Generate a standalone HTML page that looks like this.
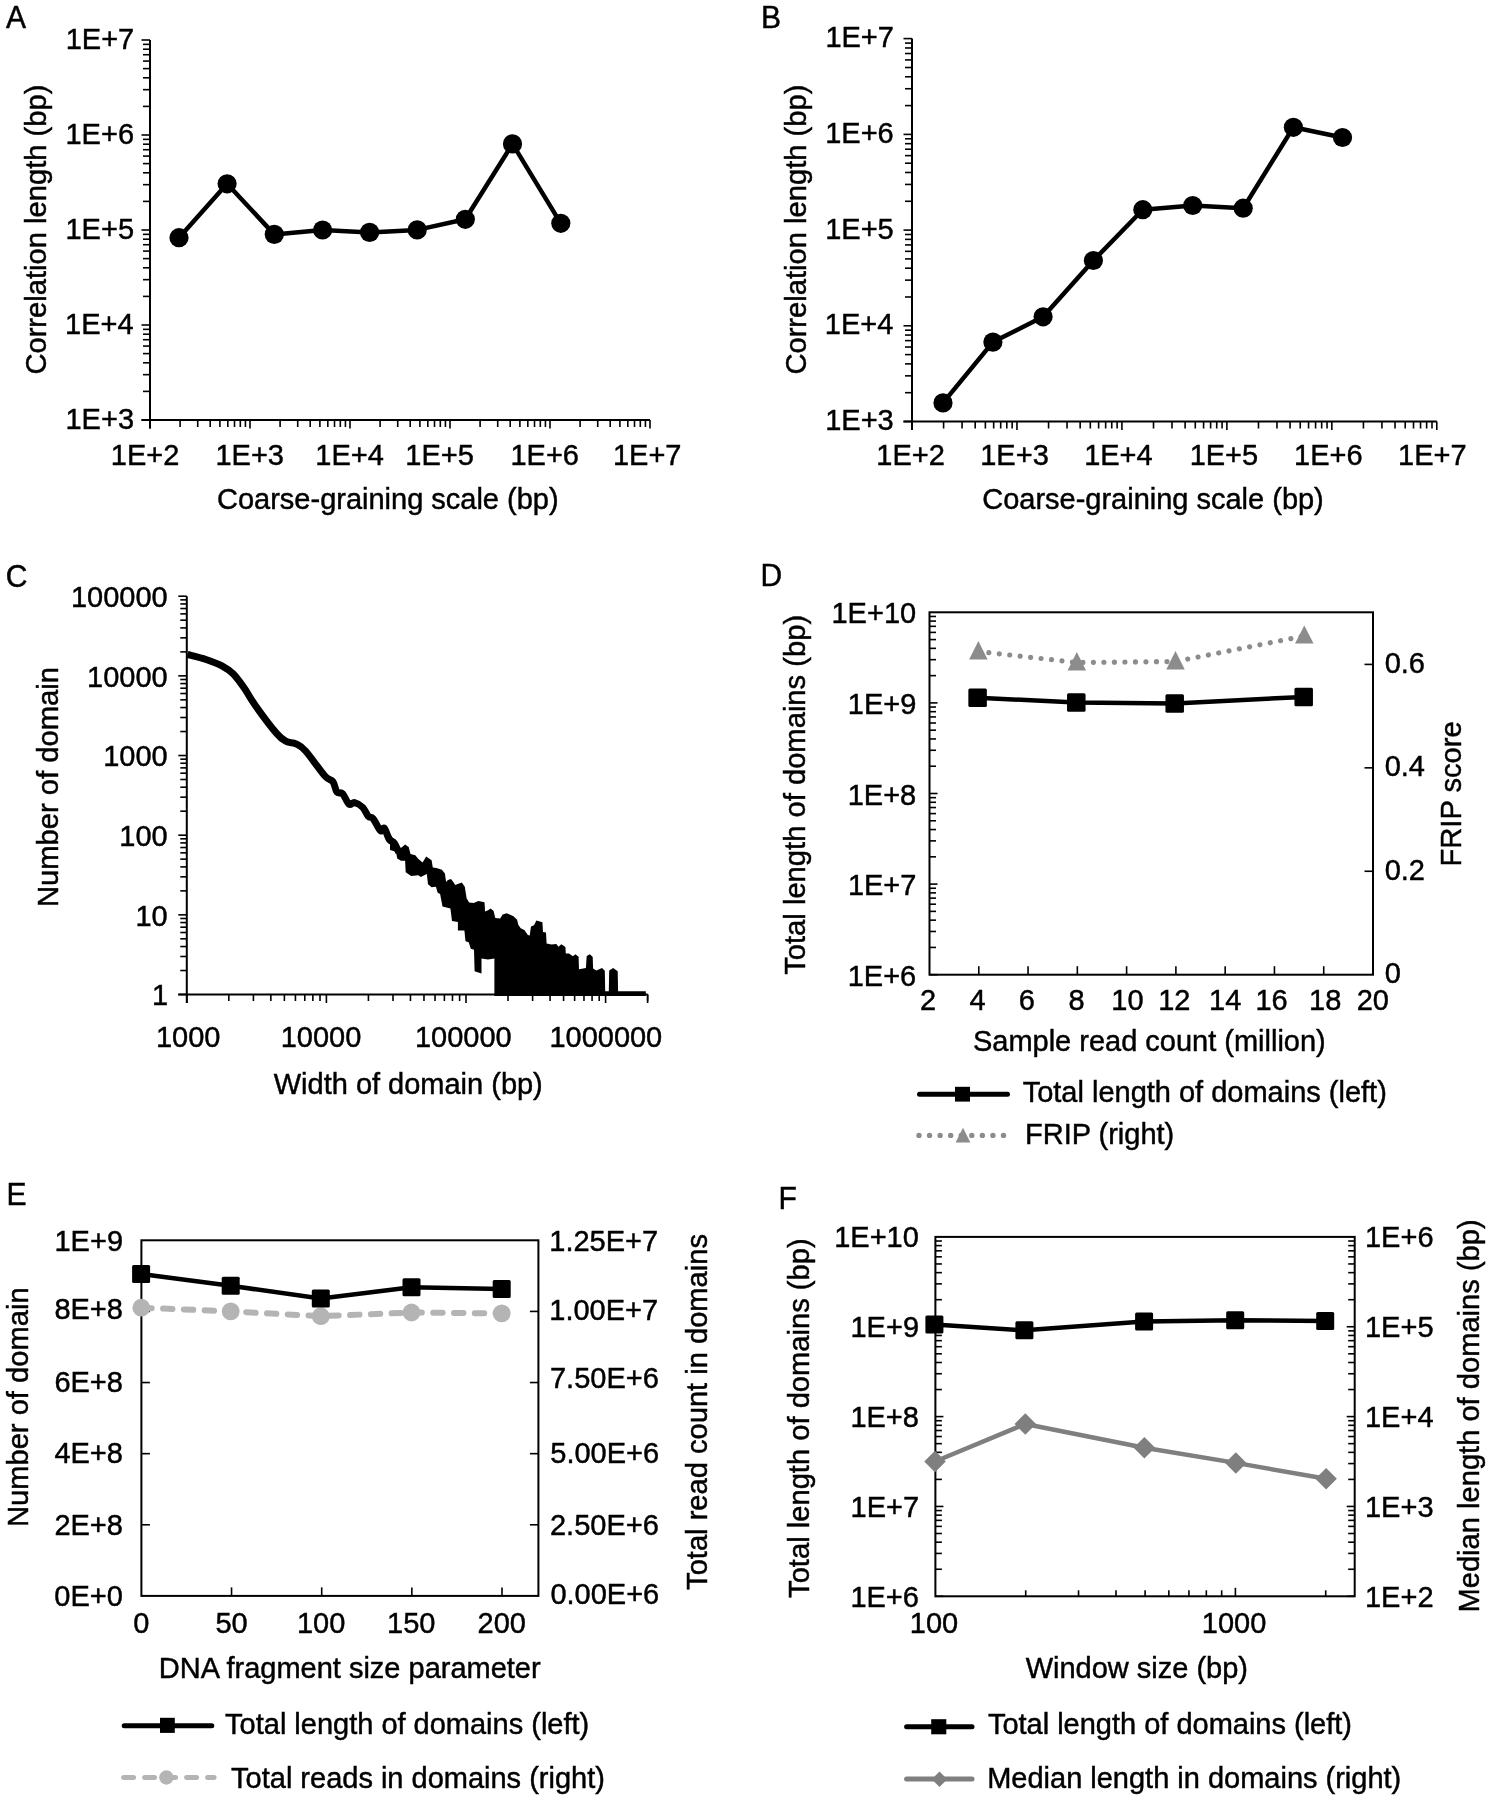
<!DOCTYPE html>
<html><head><meta charset="utf-8"><style>
html,body{margin:0;padding:0;background:#fff;}
svg{display:block;}
svg{will-change:transform;}
text{font-family:"Liberation Sans",sans-serif;fill:#000;stroke:#000;stroke-width:0.45px;}
</style></head><body>
<svg width="1491" height="1800" viewBox="0 0 1491 1800">
<rect width="1491" height="1800" fill="#fff"/>
<text transform="translate(5.90,27.80) scale(1,1.03)" font-size="30" fill="#000">A</text>
<line x1="150.00" y1="40.00" x2="150.00" y2="428.50" stroke="#000" stroke-width="2"/>
<line x1="141.50" y1="420.00" x2="650.00" y2="420.00" stroke="#000" stroke-width="2"/>
<line x1="141.50" y1="420.00" x2="150.00" y2="420.00" stroke="#000" stroke-width="1.6"/>
<line x1="143.00" y1="391.40" x2="150.00" y2="391.40" stroke="#000" stroke-width="1.6"/>
<line x1="143.00" y1="374.67" x2="150.00" y2="374.67" stroke="#000" stroke-width="1.6"/>
<line x1="143.00" y1="362.80" x2="150.00" y2="362.80" stroke="#000" stroke-width="1.6"/>
<line x1="143.00" y1="353.60" x2="150.00" y2="353.60" stroke="#000" stroke-width="1.6"/>
<line x1="143.00" y1="346.08" x2="150.00" y2="346.08" stroke="#000" stroke-width="1.6"/>
<line x1="143.00" y1="339.72" x2="150.00" y2="339.72" stroke="#000" stroke-width="1.6"/>
<line x1="143.00" y1="334.21" x2="150.00" y2="334.21" stroke="#000" stroke-width="1.6"/>
<line x1="143.00" y1="329.35" x2="150.00" y2="329.35" stroke="#000" stroke-width="1.6"/>
<line x1="141.50" y1="325.00" x2="150.00" y2="325.00" stroke="#000" stroke-width="1.6"/>
<line x1="143.00" y1="296.40" x2="150.00" y2="296.40" stroke="#000" stroke-width="1.6"/>
<line x1="143.00" y1="279.67" x2="150.00" y2="279.67" stroke="#000" stroke-width="1.6"/>
<line x1="143.00" y1="267.80" x2="150.00" y2="267.80" stroke="#000" stroke-width="1.6"/>
<line x1="143.00" y1="258.60" x2="150.00" y2="258.60" stroke="#000" stroke-width="1.6"/>
<line x1="143.00" y1="251.08" x2="150.00" y2="251.08" stroke="#000" stroke-width="1.6"/>
<line x1="143.00" y1="244.72" x2="150.00" y2="244.72" stroke="#000" stroke-width="1.6"/>
<line x1="143.00" y1="239.21" x2="150.00" y2="239.21" stroke="#000" stroke-width="1.6"/>
<line x1="143.00" y1="234.35" x2="150.00" y2="234.35" stroke="#000" stroke-width="1.6"/>
<line x1="141.50" y1="230.00" x2="150.00" y2="230.00" stroke="#000" stroke-width="1.6"/>
<line x1="143.00" y1="201.40" x2="150.00" y2="201.40" stroke="#000" stroke-width="1.6"/>
<line x1="143.00" y1="184.67" x2="150.00" y2="184.67" stroke="#000" stroke-width="1.6"/>
<line x1="143.00" y1="172.80" x2="150.00" y2="172.80" stroke="#000" stroke-width="1.6"/>
<line x1="143.00" y1="163.60" x2="150.00" y2="163.60" stroke="#000" stroke-width="1.6"/>
<line x1="143.00" y1="156.08" x2="150.00" y2="156.08" stroke="#000" stroke-width="1.6"/>
<line x1="143.00" y1="149.72" x2="150.00" y2="149.72" stroke="#000" stroke-width="1.6"/>
<line x1="143.00" y1="144.21" x2="150.00" y2="144.21" stroke="#000" stroke-width="1.6"/>
<line x1="143.00" y1="139.35" x2="150.00" y2="139.35" stroke="#000" stroke-width="1.6"/>
<line x1="141.50" y1="135.00" x2="150.00" y2="135.00" stroke="#000" stroke-width="1.6"/>
<line x1="143.00" y1="106.40" x2="150.00" y2="106.40" stroke="#000" stroke-width="1.6"/>
<line x1="143.00" y1="89.67" x2="150.00" y2="89.67" stroke="#000" stroke-width="1.6"/>
<line x1="143.00" y1="77.80" x2="150.00" y2="77.80" stroke="#000" stroke-width="1.6"/>
<line x1="143.00" y1="68.60" x2="150.00" y2="68.60" stroke="#000" stroke-width="1.6"/>
<line x1="143.00" y1="61.08" x2="150.00" y2="61.08" stroke="#000" stroke-width="1.6"/>
<line x1="143.00" y1="54.72" x2="150.00" y2="54.72" stroke="#000" stroke-width="1.6"/>
<line x1="143.00" y1="49.21" x2="150.00" y2="49.21" stroke="#000" stroke-width="1.6"/>
<line x1="143.00" y1="44.35" x2="150.00" y2="44.35" stroke="#000" stroke-width="1.6"/>
<line x1="141.50" y1="40.00" x2="150.00" y2="40.00" stroke="#000" stroke-width="1.6"/>
<line x1="150.00" y1="420.00" x2="150.00" y2="428.50" stroke="#000" stroke-width="1.6"/>
<line x1="180.10" y1="420.00" x2="180.10" y2="427.00" stroke="#000" stroke-width="1.6"/>
<line x1="197.71" y1="420.00" x2="197.71" y2="427.00" stroke="#000" stroke-width="1.6"/>
<line x1="210.21" y1="420.00" x2="210.21" y2="427.00" stroke="#000" stroke-width="1.6"/>
<line x1="219.90" y1="420.00" x2="219.90" y2="427.00" stroke="#000" stroke-width="1.6"/>
<line x1="227.82" y1="420.00" x2="227.82" y2="427.00" stroke="#000" stroke-width="1.6"/>
<line x1="234.51" y1="420.00" x2="234.51" y2="427.00" stroke="#000" stroke-width="1.6"/>
<line x1="240.31" y1="420.00" x2="240.31" y2="427.00" stroke="#000" stroke-width="1.6"/>
<line x1="245.42" y1="420.00" x2="245.42" y2="427.00" stroke="#000" stroke-width="1.6"/>
<line x1="250.00" y1="420.00" x2="250.00" y2="428.50" stroke="#000" stroke-width="1.6"/>
<line x1="280.10" y1="420.00" x2="280.10" y2="427.00" stroke="#000" stroke-width="1.6"/>
<line x1="297.71" y1="420.00" x2="297.71" y2="427.00" stroke="#000" stroke-width="1.6"/>
<line x1="310.21" y1="420.00" x2="310.21" y2="427.00" stroke="#000" stroke-width="1.6"/>
<line x1="319.90" y1="420.00" x2="319.90" y2="427.00" stroke="#000" stroke-width="1.6"/>
<line x1="327.82" y1="420.00" x2="327.82" y2="427.00" stroke="#000" stroke-width="1.6"/>
<line x1="334.51" y1="420.00" x2="334.51" y2="427.00" stroke="#000" stroke-width="1.6"/>
<line x1="340.31" y1="420.00" x2="340.31" y2="427.00" stroke="#000" stroke-width="1.6"/>
<line x1="345.42" y1="420.00" x2="345.42" y2="427.00" stroke="#000" stroke-width="1.6"/>
<line x1="350.00" y1="420.00" x2="350.00" y2="428.50" stroke="#000" stroke-width="1.6"/>
<line x1="380.10" y1="420.00" x2="380.10" y2="427.00" stroke="#000" stroke-width="1.6"/>
<line x1="397.71" y1="420.00" x2="397.71" y2="427.00" stroke="#000" stroke-width="1.6"/>
<line x1="410.21" y1="420.00" x2="410.21" y2="427.00" stroke="#000" stroke-width="1.6"/>
<line x1="419.90" y1="420.00" x2="419.90" y2="427.00" stroke="#000" stroke-width="1.6"/>
<line x1="427.82" y1="420.00" x2="427.82" y2="427.00" stroke="#000" stroke-width="1.6"/>
<line x1="434.51" y1="420.00" x2="434.51" y2="427.00" stroke="#000" stroke-width="1.6"/>
<line x1="440.31" y1="420.00" x2="440.31" y2="427.00" stroke="#000" stroke-width="1.6"/>
<line x1="445.42" y1="420.00" x2="445.42" y2="427.00" stroke="#000" stroke-width="1.6"/>
<line x1="450.00" y1="420.00" x2="450.00" y2="428.50" stroke="#000" stroke-width="1.6"/>
<line x1="480.10" y1="420.00" x2="480.10" y2="427.00" stroke="#000" stroke-width="1.6"/>
<line x1="497.71" y1="420.00" x2="497.71" y2="427.00" stroke="#000" stroke-width="1.6"/>
<line x1="510.21" y1="420.00" x2="510.21" y2="427.00" stroke="#000" stroke-width="1.6"/>
<line x1="519.90" y1="420.00" x2="519.90" y2="427.00" stroke="#000" stroke-width="1.6"/>
<line x1="527.82" y1="420.00" x2="527.82" y2="427.00" stroke="#000" stroke-width="1.6"/>
<line x1="534.51" y1="420.00" x2="534.51" y2="427.00" stroke="#000" stroke-width="1.6"/>
<line x1="540.31" y1="420.00" x2="540.31" y2="427.00" stroke="#000" stroke-width="1.6"/>
<line x1="545.42" y1="420.00" x2="545.42" y2="427.00" stroke="#000" stroke-width="1.6"/>
<line x1="550.00" y1="420.00" x2="550.00" y2="428.50" stroke="#000" stroke-width="1.6"/>
<line x1="580.10" y1="420.00" x2="580.10" y2="427.00" stroke="#000" stroke-width="1.6"/>
<line x1="597.71" y1="420.00" x2="597.71" y2="427.00" stroke="#000" stroke-width="1.6"/>
<line x1="610.21" y1="420.00" x2="610.21" y2="427.00" stroke="#000" stroke-width="1.6"/>
<line x1="619.90" y1="420.00" x2="619.90" y2="427.00" stroke="#000" stroke-width="1.6"/>
<line x1="627.82" y1="420.00" x2="627.82" y2="427.00" stroke="#000" stroke-width="1.6"/>
<line x1="634.51" y1="420.00" x2="634.51" y2="427.00" stroke="#000" stroke-width="1.6"/>
<line x1="640.31" y1="420.00" x2="640.31" y2="427.00" stroke="#000" stroke-width="1.6"/>
<line x1="645.42" y1="420.00" x2="645.42" y2="427.00" stroke="#000" stroke-width="1.6"/>
<line x1="650.00" y1="420.00" x2="650.00" y2="428.50" stroke="#000" stroke-width="1.6"/>
<text transform="translate(65.50,428.60) scale(1,1.03)" font-size="29" fill="#000">1E+3</text>
<text transform="translate(65.10,333.60) scale(1,1.03)" font-size="29" fill="#000">1E+4</text>
<text transform="translate(65.50,238.60) scale(1,1.03)" font-size="29" fill="#000">1E+5</text>
<text transform="translate(65.50,143.60) scale(1,1.03)" font-size="29" fill="#000">1E+6</text>
<text transform="translate(65.70,48.60) scale(1,1.03)" font-size="29" fill="#000">1E+7</text>
<text transform="translate(110.85,465.30) scale(1,1.03)" font-size="29" fill="#000">1E+2</text>
<text transform="translate(215.45,465.30) scale(1,1.03)" font-size="29" fill="#000">1E+3</text>
<text transform="translate(315.35,465.30) scale(1,1.03)" font-size="29" fill="#000">1E+4</text>
<text transform="translate(405.35,465.30) scale(1,1.03)" font-size="29" fill="#000">1E+5</text>
<text transform="translate(510.45,465.30) scale(1,1.03)" font-size="29" fill="#000">1E+6</text>
<text transform="translate(612.95,465.30) scale(1,1.03)" font-size="29" fill="#000">1E+7</text>
<polyline points="179.00,237.70 227.10,183.80 274.30,234.40 322.60,230.00 369.60,232.40 417.20,229.90 465.30,219.30 512.50,143.90 560.80,223.30" fill="none" stroke="#000" stroke-width="4.5" stroke-linejoin="round"/>
<circle cx="179.00" cy="237.70" r="9.6" fill="#000"/>
<circle cx="227.10" cy="183.80" r="9.6" fill="#000"/>
<circle cx="274.30" cy="234.40" r="9.6" fill="#000"/>
<circle cx="322.60" cy="230.00" r="9.6" fill="#000"/>
<circle cx="369.60" cy="232.40" r="9.6" fill="#000"/>
<circle cx="417.20" cy="229.90" r="9.6" fill="#000"/>
<circle cx="465.30" cy="219.30" r="9.6" fill="#000"/>
<circle cx="512.50" cy="143.90" r="9.6" fill="#000"/>
<circle cx="560.80" cy="223.30" r="9.6" fill="#000"/>
<text transform="translate(45.50,374.61) rotate(-90) scale(1.0056,1.03)" x="0" y="0" font-size="29">Correlation length (bp)</text>
<text transform="translate(760.90,27.80) scale(1,1.03)" font-size="30" fill="#000">B</text>
<line x1="912.00" y1="38.60" x2="912.00" y2="430.00" stroke="#000" stroke-width="2"/>
<line x1="903.50" y1="421.50" x2="1436.80" y2="421.50" stroke="#000" stroke-width="2"/>
<line x1="903.50" y1="421.50" x2="912.00" y2="421.50" stroke="#000" stroke-width="1.6"/>
<line x1="905.00" y1="392.69" x2="912.00" y2="392.69" stroke="#000" stroke-width="1.6"/>
<line x1="905.00" y1="375.84" x2="912.00" y2="375.84" stroke="#000" stroke-width="1.6"/>
<line x1="905.00" y1="363.88" x2="912.00" y2="363.88" stroke="#000" stroke-width="1.6"/>
<line x1="905.00" y1="354.61" x2="912.00" y2="354.61" stroke="#000" stroke-width="1.6"/>
<line x1="905.00" y1="347.03" x2="912.00" y2="347.03" stroke="#000" stroke-width="1.6"/>
<line x1="905.00" y1="340.62" x2="912.00" y2="340.62" stroke="#000" stroke-width="1.6"/>
<line x1="905.00" y1="335.07" x2="912.00" y2="335.07" stroke="#000" stroke-width="1.6"/>
<line x1="905.00" y1="330.18" x2="912.00" y2="330.18" stroke="#000" stroke-width="1.6"/>
<line x1="903.50" y1="325.80" x2="912.00" y2="325.80" stroke="#000" stroke-width="1.6"/>
<line x1="905.00" y1="296.99" x2="912.00" y2="296.99" stroke="#000" stroke-width="1.6"/>
<line x1="905.00" y1="280.14" x2="912.00" y2="280.14" stroke="#000" stroke-width="1.6"/>
<line x1="905.00" y1="268.18" x2="912.00" y2="268.18" stroke="#000" stroke-width="1.6"/>
<line x1="905.00" y1="258.91" x2="912.00" y2="258.91" stroke="#000" stroke-width="1.6"/>
<line x1="905.00" y1="251.33" x2="912.00" y2="251.33" stroke="#000" stroke-width="1.6"/>
<line x1="905.00" y1="244.92" x2="912.00" y2="244.92" stroke="#000" stroke-width="1.6"/>
<line x1="905.00" y1="239.37" x2="912.00" y2="239.37" stroke="#000" stroke-width="1.6"/>
<line x1="905.00" y1="234.48" x2="912.00" y2="234.48" stroke="#000" stroke-width="1.6"/>
<line x1="903.50" y1="230.10" x2="912.00" y2="230.10" stroke="#000" stroke-width="1.6"/>
<line x1="905.00" y1="201.29" x2="912.00" y2="201.29" stroke="#000" stroke-width="1.6"/>
<line x1="905.00" y1="184.44" x2="912.00" y2="184.44" stroke="#000" stroke-width="1.6"/>
<line x1="905.00" y1="172.48" x2="912.00" y2="172.48" stroke="#000" stroke-width="1.6"/>
<line x1="905.00" y1="163.21" x2="912.00" y2="163.21" stroke="#000" stroke-width="1.6"/>
<line x1="905.00" y1="155.63" x2="912.00" y2="155.63" stroke="#000" stroke-width="1.6"/>
<line x1="905.00" y1="149.22" x2="912.00" y2="149.22" stroke="#000" stroke-width="1.6"/>
<line x1="905.00" y1="143.67" x2="912.00" y2="143.67" stroke="#000" stroke-width="1.6"/>
<line x1="905.00" y1="138.78" x2="912.00" y2="138.78" stroke="#000" stroke-width="1.6"/>
<line x1="903.50" y1="134.40" x2="912.00" y2="134.40" stroke="#000" stroke-width="1.6"/>
<line x1="905.00" y1="105.59" x2="912.00" y2="105.59" stroke="#000" stroke-width="1.6"/>
<line x1="905.00" y1="88.74" x2="912.00" y2="88.74" stroke="#000" stroke-width="1.6"/>
<line x1="905.00" y1="76.78" x2="912.00" y2="76.78" stroke="#000" stroke-width="1.6"/>
<line x1="905.00" y1="67.51" x2="912.00" y2="67.51" stroke="#000" stroke-width="1.6"/>
<line x1="905.00" y1="59.93" x2="912.00" y2="59.93" stroke="#000" stroke-width="1.6"/>
<line x1="905.00" y1="53.52" x2="912.00" y2="53.52" stroke="#000" stroke-width="1.6"/>
<line x1="905.00" y1="47.97" x2="912.00" y2="47.97" stroke="#000" stroke-width="1.6"/>
<line x1="905.00" y1="43.08" x2="912.00" y2="43.08" stroke="#000" stroke-width="1.6"/>
<line x1="903.50" y1="38.60" x2="912.00" y2="38.60" stroke="#000" stroke-width="1.6"/>
<line x1="912.00" y1="421.50" x2="912.00" y2="430.00" stroke="#000" stroke-width="1.6"/>
<line x1="943.60" y1="421.50" x2="943.60" y2="428.50" stroke="#000" stroke-width="1.6"/>
<line x1="962.08" y1="421.50" x2="962.08" y2="428.50" stroke="#000" stroke-width="1.6"/>
<line x1="975.19" y1="421.50" x2="975.19" y2="428.50" stroke="#000" stroke-width="1.6"/>
<line x1="985.36" y1="421.50" x2="985.36" y2="428.50" stroke="#000" stroke-width="1.6"/>
<line x1="993.67" y1="421.50" x2="993.67" y2="428.50" stroke="#000" stroke-width="1.6"/>
<line x1="1000.70" y1="421.50" x2="1000.70" y2="428.50" stroke="#000" stroke-width="1.6"/>
<line x1="1006.79" y1="421.50" x2="1006.79" y2="428.50" stroke="#000" stroke-width="1.6"/>
<line x1="1012.16" y1="421.50" x2="1012.16" y2="428.50" stroke="#000" stroke-width="1.6"/>
<line x1="1016.96" y1="421.50" x2="1016.96" y2="430.00" stroke="#000" stroke-width="1.6"/>
<line x1="1048.56" y1="421.50" x2="1048.56" y2="428.50" stroke="#000" stroke-width="1.6"/>
<line x1="1067.04" y1="421.50" x2="1067.04" y2="428.50" stroke="#000" stroke-width="1.6"/>
<line x1="1080.15" y1="421.50" x2="1080.15" y2="428.50" stroke="#000" stroke-width="1.6"/>
<line x1="1090.32" y1="421.50" x2="1090.32" y2="428.50" stroke="#000" stroke-width="1.6"/>
<line x1="1098.63" y1="421.50" x2="1098.63" y2="428.50" stroke="#000" stroke-width="1.6"/>
<line x1="1105.66" y1="421.50" x2="1105.66" y2="428.50" stroke="#000" stroke-width="1.6"/>
<line x1="1111.75" y1="421.50" x2="1111.75" y2="428.50" stroke="#000" stroke-width="1.6"/>
<line x1="1117.12" y1="421.50" x2="1117.12" y2="428.50" stroke="#000" stroke-width="1.6"/>
<line x1="1121.92" y1="421.50" x2="1121.92" y2="430.00" stroke="#000" stroke-width="1.6"/>
<line x1="1153.52" y1="421.50" x2="1153.52" y2="428.50" stroke="#000" stroke-width="1.6"/>
<line x1="1172.00" y1="421.50" x2="1172.00" y2="428.50" stroke="#000" stroke-width="1.6"/>
<line x1="1185.11" y1="421.50" x2="1185.11" y2="428.50" stroke="#000" stroke-width="1.6"/>
<line x1="1195.28" y1="421.50" x2="1195.28" y2="428.50" stroke="#000" stroke-width="1.6"/>
<line x1="1203.59" y1="421.50" x2="1203.59" y2="428.50" stroke="#000" stroke-width="1.6"/>
<line x1="1210.62" y1="421.50" x2="1210.62" y2="428.50" stroke="#000" stroke-width="1.6"/>
<line x1="1216.71" y1="421.50" x2="1216.71" y2="428.50" stroke="#000" stroke-width="1.6"/>
<line x1="1222.08" y1="421.50" x2="1222.08" y2="428.50" stroke="#000" stroke-width="1.6"/>
<line x1="1226.88" y1="421.50" x2="1226.88" y2="430.00" stroke="#000" stroke-width="1.6"/>
<line x1="1258.48" y1="421.50" x2="1258.48" y2="428.50" stroke="#000" stroke-width="1.6"/>
<line x1="1276.96" y1="421.50" x2="1276.96" y2="428.50" stroke="#000" stroke-width="1.6"/>
<line x1="1290.07" y1="421.50" x2="1290.07" y2="428.50" stroke="#000" stroke-width="1.6"/>
<line x1="1300.24" y1="421.50" x2="1300.24" y2="428.50" stroke="#000" stroke-width="1.6"/>
<line x1="1308.55" y1="421.50" x2="1308.55" y2="428.50" stroke="#000" stroke-width="1.6"/>
<line x1="1315.58" y1="421.50" x2="1315.58" y2="428.50" stroke="#000" stroke-width="1.6"/>
<line x1="1321.67" y1="421.50" x2="1321.67" y2="428.50" stroke="#000" stroke-width="1.6"/>
<line x1="1327.04" y1="421.50" x2="1327.04" y2="428.50" stroke="#000" stroke-width="1.6"/>
<line x1="1331.84" y1="421.50" x2="1331.84" y2="430.00" stroke="#000" stroke-width="1.6"/>
<line x1="1363.44" y1="421.50" x2="1363.44" y2="428.50" stroke="#000" stroke-width="1.6"/>
<line x1="1381.92" y1="421.50" x2="1381.92" y2="428.50" stroke="#000" stroke-width="1.6"/>
<line x1="1395.03" y1="421.50" x2="1395.03" y2="428.50" stroke="#000" stroke-width="1.6"/>
<line x1="1405.20" y1="421.50" x2="1405.20" y2="428.50" stroke="#000" stroke-width="1.6"/>
<line x1="1413.51" y1="421.50" x2="1413.51" y2="428.50" stroke="#000" stroke-width="1.6"/>
<line x1="1420.54" y1="421.50" x2="1420.54" y2="428.50" stroke="#000" stroke-width="1.6"/>
<line x1="1426.63" y1="421.50" x2="1426.63" y2="428.50" stroke="#000" stroke-width="1.6"/>
<line x1="1432.00" y1="421.50" x2="1432.00" y2="428.50" stroke="#000" stroke-width="1.6"/>
<line x1="1436.80" y1="421.50" x2="1436.80" y2="430.00" stroke="#000" stroke-width="1.6"/>
<text transform="translate(825.20,430.10) scale(1,1.03)" font-size="29" fill="#000">1E+3</text>
<text transform="translate(824.80,334.40) scale(1,1.03)" font-size="29" fill="#000">1E+4</text>
<text transform="translate(825.20,238.70) scale(1,1.03)" font-size="29" fill="#000">1E+5</text>
<text transform="translate(825.20,143.00) scale(1,1.03)" font-size="29" fill="#000">1E+6</text>
<text transform="translate(825.40,47.30) scale(1,1.03)" font-size="29" fill="#000">1E+7</text>
<text transform="translate(876.35,465.30) scale(1,1.03)" font-size="29" fill="#000">1E+2</text>
<text transform="translate(980.25,465.30) scale(1,1.03)" font-size="29" fill="#000">1E+3</text>
<text transform="translate(1084.15,465.30) scale(1,1.03)" font-size="29" fill="#000">1E+4</text>
<text transform="translate(1189.65,465.30) scale(1,1.03)" font-size="29" fill="#000">1E+5</text>
<text transform="translate(1294.05,465.30) scale(1,1.03)" font-size="29" fill="#000">1E+6</text>
<text transform="translate(1398.05,465.30) scale(1,1.03)" font-size="29" fill="#000">1E+7</text>
<polyline points="943.00,402.90 992.90,342.10 1043.10,316.80 1093.40,260.50 1142.80,209.70 1192.70,205.50 1243.20,208.20 1293.40,127.30 1342.50,137.50" fill="none" stroke="#000" stroke-width="4.5" stroke-linejoin="round"/>
<circle cx="943.00" cy="402.90" r="9.6" fill="#000"/>
<circle cx="992.90" cy="342.10" r="9.6" fill="#000"/>
<circle cx="1043.10" cy="316.80" r="9.6" fill="#000"/>
<circle cx="1093.40" cy="260.50" r="9.6" fill="#000"/>
<circle cx="1142.80" cy="209.70" r="9.6" fill="#000"/>
<circle cx="1192.70" cy="205.50" r="9.6" fill="#000"/>
<circle cx="1243.20" cy="208.20" r="9.6" fill="#000"/>
<circle cx="1293.40" cy="127.30" r="9.6" fill="#000"/>
<circle cx="1342.50" cy="137.50" r="9.6" fill="#000"/>
<text transform="translate(805.90,374.61) rotate(-90) scale(1.0056,1.03)" x="0" y="0" font-size="29">Correlation length (bp)</text>
<text transform="translate(217.05,508.70) scale(1,1.03)" font-size="29" fill="#000">Coarse-graining scale (bp)</text>
<text transform="translate(982.25,508.70) scale(1,1.03)" font-size="29" fill="#000">Coarse-graining scale (bp)</text>
<text transform="translate(5.70,586.60) scale(1,1.03)" font-size="30" fill="#000">C</text>
<line x1="186.80" y1="596.20" x2="186.80" y2="1003.00" stroke="#000" stroke-width="2"/>
<line x1="178.30" y1="994.50" x2="647.62" y2="994.50" stroke="#000" stroke-width="2"/>
<line x1="178.30" y1="994.50" x2="186.80" y2="994.50" stroke="#000" stroke-width="1.6"/>
<line x1="180.30" y1="970.52" x2="186.80" y2="970.52" stroke="#000" stroke-width="1.6"/>
<line x1="180.30" y1="956.49" x2="186.80" y2="956.49" stroke="#000" stroke-width="1.6"/>
<line x1="180.30" y1="946.54" x2="186.80" y2="946.54" stroke="#000" stroke-width="1.6"/>
<line x1="180.30" y1="938.82" x2="186.80" y2="938.82" stroke="#000" stroke-width="1.6"/>
<line x1="180.30" y1="932.51" x2="186.80" y2="932.51" stroke="#000" stroke-width="1.6"/>
<line x1="180.30" y1="927.18" x2="186.80" y2="927.18" stroke="#000" stroke-width="1.6"/>
<line x1="180.30" y1="922.56" x2="186.80" y2="922.56" stroke="#000" stroke-width="1.6"/>
<line x1="180.30" y1="918.49" x2="186.80" y2="918.49" stroke="#000" stroke-width="1.6"/>
<line x1="178.30" y1="914.84" x2="186.80" y2="914.84" stroke="#000" stroke-width="1.6"/>
<line x1="180.30" y1="890.86" x2="186.80" y2="890.86" stroke="#000" stroke-width="1.6"/>
<line x1="180.30" y1="876.83" x2="186.80" y2="876.83" stroke="#000" stroke-width="1.6"/>
<line x1="180.30" y1="866.88" x2="186.80" y2="866.88" stroke="#000" stroke-width="1.6"/>
<line x1="180.30" y1="859.16" x2="186.80" y2="859.16" stroke="#000" stroke-width="1.6"/>
<line x1="180.30" y1="852.85" x2="186.80" y2="852.85" stroke="#000" stroke-width="1.6"/>
<line x1="180.30" y1="847.52" x2="186.80" y2="847.52" stroke="#000" stroke-width="1.6"/>
<line x1="180.30" y1="842.90" x2="186.80" y2="842.90" stroke="#000" stroke-width="1.6"/>
<line x1="180.30" y1="838.83" x2="186.80" y2="838.83" stroke="#000" stroke-width="1.6"/>
<line x1="178.30" y1="835.18" x2="186.80" y2="835.18" stroke="#000" stroke-width="1.6"/>
<line x1="180.30" y1="811.20" x2="186.80" y2="811.20" stroke="#000" stroke-width="1.6"/>
<line x1="180.30" y1="797.17" x2="186.80" y2="797.17" stroke="#000" stroke-width="1.6"/>
<line x1="180.30" y1="787.22" x2="186.80" y2="787.22" stroke="#000" stroke-width="1.6"/>
<line x1="180.30" y1="779.50" x2="186.80" y2="779.50" stroke="#000" stroke-width="1.6"/>
<line x1="180.30" y1="773.19" x2="186.80" y2="773.19" stroke="#000" stroke-width="1.6"/>
<line x1="180.30" y1="767.86" x2="186.80" y2="767.86" stroke="#000" stroke-width="1.6"/>
<line x1="180.30" y1="763.24" x2="186.80" y2="763.24" stroke="#000" stroke-width="1.6"/>
<line x1="180.30" y1="759.17" x2="186.80" y2="759.17" stroke="#000" stroke-width="1.6"/>
<line x1="178.30" y1="755.52" x2="186.80" y2="755.52" stroke="#000" stroke-width="1.6"/>
<line x1="180.30" y1="731.54" x2="186.80" y2="731.54" stroke="#000" stroke-width="1.6"/>
<line x1="180.30" y1="717.51" x2="186.80" y2="717.51" stroke="#000" stroke-width="1.6"/>
<line x1="180.30" y1="707.56" x2="186.80" y2="707.56" stroke="#000" stroke-width="1.6"/>
<line x1="180.30" y1="699.84" x2="186.80" y2="699.84" stroke="#000" stroke-width="1.6"/>
<line x1="180.30" y1="693.53" x2="186.80" y2="693.53" stroke="#000" stroke-width="1.6"/>
<line x1="180.30" y1="688.20" x2="186.80" y2="688.20" stroke="#000" stroke-width="1.6"/>
<line x1="180.30" y1="683.58" x2="186.80" y2="683.58" stroke="#000" stroke-width="1.6"/>
<line x1="180.30" y1="679.51" x2="186.80" y2="679.51" stroke="#000" stroke-width="1.6"/>
<line x1="178.30" y1="675.86" x2="186.80" y2="675.86" stroke="#000" stroke-width="1.6"/>
<line x1="180.30" y1="651.88" x2="186.80" y2="651.88" stroke="#000" stroke-width="1.6"/>
<line x1="180.30" y1="637.85" x2="186.80" y2="637.85" stroke="#000" stroke-width="1.6"/>
<line x1="180.30" y1="627.90" x2="186.80" y2="627.90" stroke="#000" stroke-width="1.6"/>
<line x1="180.30" y1="620.18" x2="186.80" y2="620.18" stroke="#000" stroke-width="1.6"/>
<line x1="180.30" y1="613.87" x2="186.80" y2="613.87" stroke="#000" stroke-width="1.6"/>
<line x1="180.30" y1="608.54" x2="186.80" y2="608.54" stroke="#000" stroke-width="1.6"/>
<line x1="180.30" y1="603.92" x2="186.80" y2="603.92" stroke="#000" stroke-width="1.6"/>
<line x1="180.30" y1="599.85" x2="186.80" y2="599.85" stroke="#000" stroke-width="1.6"/>
<line x1="178.30" y1="596.20" x2="186.80" y2="596.20" stroke="#000" stroke-width="1.6"/>
<line x1="186.80" y1="994.50" x2="186.80" y2="1003.00" stroke="#000" stroke-width="1.6"/>
<line x1="228.82" y1="994.50" x2="228.82" y2="1001.00" stroke="#000" stroke-width="1.6"/>
<line x1="253.41" y1="994.50" x2="253.41" y2="1001.00" stroke="#000" stroke-width="1.6"/>
<line x1="270.85" y1="994.50" x2="270.85" y2="1001.00" stroke="#000" stroke-width="1.6"/>
<line x1="284.38" y1="994.50" x2="284.38" y2="1001.00" stroke="#000" stroke-width="1.6"/>
<line x1="295.43" y1="994.50" x2="295.43" y2="1001.00" stroke="#000" stroke-width="1.6"/>
<line x1="304.78" y1="994.50" x2="304.78" y2="1001.00" stroke="#000" stroke-width="1.6"/>
<line x1="312.87" y1="994.50" x2="312.87" y2="1001.00" stroke="#000" stroke-width="1.6"/>
<line x1="320.01" y1="994.50" x2="320.01" y2="1001.00" stroke="#000" stroke-width="1.6"/>
<line x1="326.40" y1="994.50" x2="326.40" y2="1003.00" stroke="#000" stroke-width="1.6"/>
<line x1="368.42" y1="994.50" x2="368.42" y2="1001.00" stroke="#000" stroke-width="1.6"/>
<line x1="393.01" y1="994.50" x2="393.01" y2="1001.00" stroke="#000" stroke-width="1.6"/>
<line x1="410.45" y1="994.50" x2="410.45" y2="1001.00" stroke="#000" stroke-width="1.6"/>
<line x1="423.98" y1="994.50" x2="423.98" y2="1001.00" stroke="#000" stroke-width="1.6"/>
<line x1="435.03" y1="994.50" x2="435.03" y2="1001.00" stroke="#000" stroke-width="1.6"/>
<line x1="444.38" y1="994.50" x2="444.38" y2="1001.00" stroke="#000" stroke-width="1.6"/>
<line x1="452.47" y1="994.50" x2="452.47" y2="1001.00" stroke="#000" stroke-width="1.6"/>
<line x1="459.61" y1="994.50" x2="459.61" y2="1001.00" stroke="#000" stroke-width="1.6"/>
<line x1="466.00" y1="994.50" x2="466.00" y2="1003.00" stroke="#000" stroke-width="1.6"/>
<line x1="508.02" y1="994.50" x2="508.02" y2="1001.00" stroke="#000" stroke-width="1.6"/>
<line x1="532.61" y1="994.50" x2="532.61" y2="1001.00" stroke="#000" stroke-width="1.6"/>
<line x1="550.05" y1="994.50" x2="550.05" y2="1001.00" stroke="#000" stroke-width="1.6"/>
<line x1="563.58" y1="994.50" x2="563.58" y2="1001.00" stroke="#000" stroke-width="1.6"/>
<line x1="574.63" y1="994.50" x2="574.63" y2="1001.00" stroke="#000" stroke-width="1.6"/>
<line x1="583.98" y1="994.50" x2="583.98" y2="1001.00" stroke="#000" stroke-width="1.6"/>
<line x1="592.07" y1="994.50" x2="592.07" y2="1001.00" stroke="#000" stroke-width="1.6"/>
<line x1="599.21" y1="994.50" x2="599.21" y2="1001.00" stroke="#000" stroke-width="1.6"/>
<line x1="605.60" y1="994.50" x2="605.60" y2="1003.00" stroke="#000" stroke-width="1.6"/>
<line x1="647.62" y1="994.50" x2="647.62" y2="1001.00" stroke="#000" stroke-width="1.6"/>
<line x1="647.62" y1="994.50" x2="647.62" y2="1003.00" stroke="#000" stroke-width="1.6"/>
<text transform="translate(151.90,1005.20) scale(1,1.03)" font-size="29" fill="#000">1</text>
<text transform="translate(135.50,925.54) scale(1,1.03)" font-size="29" fill="#000">10</text>
<text transform="translate(119.30,845.88) scale(1,1.03)" font-size="29" fill="#000">100</text>
<text transform="translate(103.20,766.22) scale(1,1.03)" font-size="29" fill="#000">1000</text>
<text transform="translate(87.10,686.56) scale(1,1.03)" font-size="29" fill="#000">10000</text>
<text transform="translate(71.00,606.90) scale(1,1.03)" font-size="29" fill="#000">100000</text>
<text transform="translate(155.90,1046.60) scale(1,1.03)" font-size="29" fill="#000">1000</text>
<text transform="translate(280.65,1046.60) scale(1,1.03)" font-size="29" fill="#000">10000</text>
<text transform="translate(415.00,1046.60) scale(1,1.03)" font-size="29" fill="#000">100000</text>
<text transform="translate(549.40,1046.60) scale(1,1.03)" font-size="29" fill="#000">1000000</text>
<text transform="translate(273.75,1094.20) scale(1,1.03)" font-size="29" fill="#000">Width of domain (bp)</text>
<text transform="translate(57.70,907.12) rotate(-90) scale(1.0073,1.03)" x="0" y="0" font-size="29">Number of domain</text>
<path d="M187.50,654.50 C190.58,655.33 200.27,657.62 206.00,659.50 C211.73,661.38 217.38,663.42 221.90,665.80 C226.42,668.18 229.35,670.05 233.10,673.80 C236.85,677.55 240.63,682.93 244.40,688.30 C248.17,693.67 250.33,698.48 255.70,706.00 C261.07,713.52 271.52,727.50 276.60,733.40 C281.68,739.30 282.98,739.67 286.20,741.40 C289.42,743.13 292.67,742.20 295.90,743.80 C299.13,745.40 300.77,745.63 305.60,751.00 C310.43,756.37 320.35,770.90 324.90,776.00 C329.45,781.10 330.90,778.92 332.90,781.60 C334.90,784.28 335.28,790.08 336.90,792.10 C338.52,794.12 340.58,791.68 342.60,793.70 C344.62,795.72 347.00,802.72 349.00,804.20 C351.00,805.68 352.32,802.07 354.60,802.60 C356.88,803.13 360.42,805.12 362.70,807.40 C364.98,809.68 366.55,814.42 368.30,816.30 C370.05,818.18 371.18,816.30 373.20,818.70 C375.22,821.10 378.53,829.10 380.40,830.70 C382.27,832.30 382.92,826.82 384.40,828.30 C385.88,829.78 387.68,837.18 389.30,839.60 C390.92,842.02 392.50,840.65 394.10,842.80 C395.70,844.95 398.10,850.88 398.90,852.50" fill="none" stroke="#000" stroke-width="7" stroke-linejoin="round"/>
<polygon points="390.0,833.6 392.4,837.2 395.4,840.3 396.6,845.7 400.9,848.1 405.1,844.5 408.7,846.9 410.5,854.1 415.3,855.3 418.4,859.0 422.6,862.6 426.2,856.6 431.6,860.2 432.8,867.4 436.5,868.0 441.9,869.8 444.9,873.5 446.1,882.0 447.9,880.1 451.0,878.9 454.0,883.1 455.2,884.9 461.8,882.5 464.8,886.7 466.6,898.2 469.1,902.4 473.6,903.0 478.4,901.1 484.5,902.3 485.1,911.4 488.1,910.2 490.5,908.4 493.5,910.8 495.3,918.0 500.2,918.6 502.6,914.4 506.8,913.2 513.5,916.2 517.1,919.8 518.3,924.7 520.7,928.3 524.3,930.1 527.9,934.9 529.7,935.5 531.0,926.5 534.0,925.3 536.4,920.4 542.4,922.2 543.0,931.9 546.0,932.5 546.6,943.4 551.5,944.6 556.3,944.0 558.5,946.7 561.3,944.3 565.4,947.1 565.8,953.5 569.0,953.5 573.0,956.3 575.4,954.3 578.6,956.7 579.0,969.2 585.9,968.0 586.7,955.9 589.9,954.3 592.7,957.1 593.1,968.4 596.3,970.4 602.0,968.0 604.8,970.8 605.2,991.3 608.8,991.3 609.2,970.4 613.2,968.0 617.7,971.2 618.1,991.3 645.8,991.3 645.8,996.0 494.4,996.0 494.4,958.4 488.0,959.5 481.5,958.4 481.5,973.4 474.6,971.3 474.0,949.8 470.8,948.8 468.7,942.3 465.5,941.2 464.4,930.5 457.9,930.5 457.9,921.9 452.0,920.9 450.4,908.5 442.5,906.6 440.1,894.0 437.7,892.8 435.9,886.7 431.6,887.3 428.0,884.3 426.8,874.1 420.8,877.1 418.4,875.3 411.1,875.9 405.7,872.2 405.1,860.8 400.9,860.8 397.2,858.4 396.0,851.7 391.8,850.5 390.0,849.9" fill="#000"/>
<text transform="translate(760.40,585.80) scale(1,1.03)" font-size="30" fill="#000">D</text>
<rect x="929.5" y="612.3" width="443.5" height="362.4000000000001" fill="none" stroke="#000" stroke-width="2"/>
<line x1="929.50" y1="974.70" x2="937.50" y2="974.70" stroke="#000" stroke-width="1.6"/>
<line x1="929.50" y1="947.43" x2="936.00" y2="947.43" stroke="#000" stroke-width="1.6"/>
<line x1="929.50" y1="931.47" x2="936.00" y2="931.47" stroke="#000" stroke-width="1.6"/>
<line x1="929.50" y1="920.15" x2="936.00" y2="920.15" stroke="#000" stroke-width="1.6"/>
<line x1="929.50" y1="911.37" x2="936.00" y2="911.37" stroke="#000" stroke-width="1.6"/>
<line x1="929.50" y1="904.20" x2="936.00" y2="904.20" stroke="#000" stroke-width="1.6"/>
<line x1="929.50" y1="898.13" x2="936.00" y2="898.13" stroke="#000" stroke-width="1.6"/>
<line x1="929.50" y1="892.88" x2="936.00" y2="892.88" stroke="#000" stroke-width="1.6"/>
<line x1="929.50" y1="888.25" x2="936.00" y2="888.25" stroke="#000" stroke-width="1.6"/>
<line x1="929.50" y1="884.10" x2="937.50" y2="884.10" stroke="#000" stroke-width="1.6"/>
<line x1="929.50" y1="856.83" x2="936.00" y2="856.83" stroke="#000" stroke-width="1.6"/>
<line x1="929.50" y1="840.87" x2="936.00" y2="840.87" stroke="#000" stroke-width="1.6"/>
<line x1="929.50" y1="829.55" x2="936.00" y2="829.55" stroke="#000" stroke-width="1.6"/>
<line x1="929.50" y1="820.77" x2="936.00" y2="820.77" stroke="#000" stroke-width="1.6"/>
<line x1="929.50" y1="813.60" x2="936.00" y2="813.60" stroke="#000" stroke-width="1.6"/>
<line x1="929.50" y1="807.53" x2="936.00" y2="807.53" stroke="#000" stroke-width="1.6"/>
<line x1="929.50" y1="802.28" x2="936.00" y2="802.28" stroke="#000" stroke-width="1.6"/>
<line x1="929.50" y1="797.65" x2="936.00" y2="797.65" stroke="#000" stroke-width="1.6"/>
<line x1="929.50" y1="793.50" x2="937.50" y2="793.50" stroke="#000" stroke-width="1.6"/>
<line x1="929.50" y1="766.23" x2="936.00" y2="766.23" stroke="#000" stroke-width="1.6"/>
<line x1="929.50" y1="750.27" x2="936.00" y2="750.27" stroke="#000" stroke-width="1.6"/>
<line x1="929.50" y1="738.95" x2="936.00" y2="738.95" stroke="#000" stroke-width="1.6"/>
<line x1="929.50" y1="730.17" x2="936.00" y2="730.17" stroke="#000" stroke-width="1.6"/>
<line x1="929.50" y1="723.00" x2="936.00" y2="723.00" stroke="#000" stroke-width="1.6"/>
<line x1="929.50" y1="716.93" x2="936.00" y2="716.93" stroke="#000" stroke-width="1.6"/>
<line x1="929.50" y1="711.68" x2="936.00" y2="711.68" stroke="#000" stroke-width="1.6"/>
<line x1="929.50" y1="707.05" x2="936.00" y2="707.05" stroke="#000" stroke-width="1.6"/>
<line x1="929.50" y1="702.90" x2="937.50" y2="702.90" stroke="#000" stroke-width="1.6"/>
<line x1="929.50" y1="675.63" x2="936.00" y2="675.63" stroke="#000" stroke-width="1.6"/>
<line x1="929.50" y1="659.67" x2="936.00" y2="659.67" stroke="#000" stroke-width="1.6"/>
<line x1="929.50" y1="648.35" x2="936.00" y2="648.35" stroke="#000" stroke-width="1.6"/>
<line x1="929.50" y1="639.57" x2="936.00" y2="639.57" stroke="#000" stroke-width="1.6"/>
<line x1="929.50" y1="632.40" x2="936.00" y2="632.40" stroke="#000" stroke-width="1.6"/>
<line x1="929.50" y1="626.33" x2="936.00" y2="626.33" stroke="#000" stroke-width="1.6"/>
<line x1="929.50" y1="621.08" x2="936.00" y2="621.08" stroke="#000" stroke-width="1.6"/>
<line x1="929.50" y1="616.45" x2="936.00" y2="616.45" stroke="#000" stroke-width="1.6"/>
<text transform="translate(847.70,985.70) scale(1,1.03)" font-size="29" fill="#000">1E+6</text>
<text transform="translate(847.90,895.10) scale(1,1.03)" font-size="29" fill="#000">1E+7</text>
<text transform="translate(847.70,804.50) scale(1,1.03)" font-size="29" fill="#000">1E+8</text>
<text transform="translate(847.80,713.90) scale(1,1.03)" font-size="29" fill="#000">1E+9</text>
<text transform="translate(831.50,623.30) scale(1,1.03)" font-size="29" fill="#000">1E+10</text>
<line x1="978.78" y1="974.70" x2="978.78" y2="966.20" stroke="#000" stroke-width="1.6"/>
<line x1="1028.06" y1="974.70" x2="1028.06" y2="966.20" stroke="#000" stroke-width="1.6"/>
<line x1="1077.33" y1="974.70" x2="1077.33" y2="966.20" stroke="#000" stroke-width="1.6"/>
<line x1="1126.61" y1="974.70" x2="1126.61" y2="966.20" stroke="#000" stroke-width="1.6"/>
<line x1="1175.89" y1="974.70" x2="1175.89" y2="966.20" stroke="#000" stroke-width="1.6"/>
<line x1="1225.17" y1="974.70" x2="1225.17" y2="966.20" stroke="#000" stroke-width="1.6"/>
<line x1="1274.44" y1="974.70" x2="1274.44" y2="966.20" stroke="#000" stroke-width="1.6"/>
<line x1="1323.72" y1="974.70" x2="1323.72" y2="966.20" stroke="#000" stroke-width="1.6"/>
<text transform="translate(919.90,1009.80) scale(1,1.03)" font-size="29" fill="#000">2</text>
<text transform="translate(969.50,1009.80) scale(1,1.03)" font-size="29" fill="#000">4</text>
<text transform="translate(1018.80,1009.80) scale(1,1.03)" font-size="29" fill="#000">6</text>
<text transform="translate(1068.40,1009.80) scale(1,1.03)" font-size="29" fill="#000">8</text>
<text transform="translate(1111.35,1009.80) scale(1,1.03)" font-size="29" fill="#000">10</text>
<text transform="translate(1158.20,1009.80) scale(1,1.03)" font-size="29" fill="#000">12</text>
<text transform="translate(1209.10,1009.80) scale(1,1.03)" font-size="29" fill="#000">14</text>
<text transform="translate(1255.40,1009.80) scale(1,1.03)" font-size="29" fill="#000">16</text>
<text transform="translate(1309.10,1009.80) scale(1,1.03)" font-size="29" fill="#000">18</text>
<text transform="translate(1356.70,1009.80) scale(1,1.03)" font-size="29" fill="#000">20</text>
<text transform="translate(1384.70,983.20) scale(1,1.03)" font-size="29" fill="#000">0</text>
<line x1="1364.50" y1="871.27" x2="1373.00" y2="871.27" stroke="#000" stroke-width="1.6"/>
<text transform="translate(1384.70,879.77) scale(1,1.03)" font-size="29" fill="#000">0.2</text>
<line x1="1364.50" y1="767.83" x2="1373.00" y2="767.83" stroke="#000" stroke-width="1.6"/>
<text transform="translate(1384.70,776.33) scale(1,1.03)" font-size="29" fill="#000">0.4</text>
<line x1="1364.50" y1="664.40" x2="1373.00" y2="664.40" stroke="#000" stroke-width="1.6"/>
<text transform="translate(1384.70,672.90) scale(1,1.03)" font-size="29" fill="#000">0.6</text>
<text transform="translate(972.95,1051.30) scale(1,1.03)" font-size="29" fill="#000">Sample read count (million)</text>
<text transform="translate(804.90,974.80) rotate(-90) scale(1.0062,1.03)" x="0" y="0" font-size="29">Total length of domains (bp)</text>
<text transform="translate(1461.10,866.51) rotate(-90) scale(1.0057,1.03)" x="0" y="0" font-size="29">FRIP score</text>
<polyline points="978.40,651.50 1076.80,662.50 1175.50,661.50 1304.30,636.00" fill="none" stroke="#8c8c8c" stroke-width="5.2" stroke-linejoin="round" stroke-dasharray="0.01 10.5" stroke-linecap="round"/>
<polygon points="969.15,659.60 987.65,659.60 978.40,640.90" fill="#8c8c8c"/>
<polygon points="1067.55,670.50 1086.05,670.50 1076.80,652.00" fill="#8c8c8c"/>
<polygon points="1166.25,669.50 1184.75,669.50 1175.50,651.00" fill="#8c8c8c"/>
<polygon points="1295.05,643.40 1313.55,643.40 1304.30,625.60" fill="#8c8c8c"/>
<polyline points="977.60,697.70 1076.30,702.60 1174.70,703.40 1303.70,696.90" fill="none" stroke="#000" stroke-width="4.5" stroke-linejoin="round"/>
<rect x="968.35" y="688.45" width="18.5" height="18.5" rx="1.5" fill="#000"/>
<rect x="1067.05" y="693.35" width="18.5" height="18.5" rx="1.5" fill="#000"/>
<rect x="1165.45" y="694.15" width="18.5" height="18.5" rx="1.5" fill="#000"/>
<rect x="1294.45" y="687.65" width="18.5" height="18.5" rx="1.5" fill="#000"/>
<line x1="919.50" y1="1094.20" x2="1007.50" y2="1094.20" stroke="#000" stroke-width="5" stroke-linecap="round"/>
<rect x="955" y="1086.8" width="15" height="14.8" fill="#000"/>
<text transform="translate(1022.70,1101.60) scale(1,1.03)" font-size="29" fill="#000">Total length of domains (left)</text>
<line x1="919.00" y1="1135.40" x2="1004.00" y2="1135.40" stroke="#8c8c8c" stroke-width="5.4" stroke-dasharray="0.01 10.55" stroke-linecap="round"/>
<polygon points="955.65,1142.50 970.35,1142.50 963.00,1127.70" fill="#8c8c8c"/>
<text transform="translate(1025.00,1143.80) scale(1,1.03)" font-size="29" fill="#000">FRIP (right)</text>
<text transform="translate(6.40,1205.40) scale(1,1.03)" font-size="30" fill="#000">E</text>
<rect x="141.4" y="1240.3" width="397.0" height="355.60000000000014" fill="none" stroke="#000" stroke-width="2"/>
<text transform="translate(54.30,1606.00) scale(1,1.03)" font-size="29" fill="#000">0E+0</text>
<line x1="141.40" y1="1524.78" x2="149.90" y2="1524.78" stroke="#000" stroke-width="1.6"/>
<line x1="529.90" y1="1524.78" x2="538.40" y2="1524.78" stroke="#000" stroke-width="1.6"/>
<text transform="translate(54.40,1535.20) scale(1,1.03)" font-size="29" fill="#000">2E+8</text>
<line x1="141.40" y1="1453.66" x2="149.90" y2="1453.66" stroke="#000" stroke-width="1.6"/>
<line x1="529.90" y1="1453.66" x2="538.40" y2="1453.66" stroke="#000" stroke-width="1.6"/>
<text transform="translate(54.40,1463.30) scale(1,1.03)" font-size="29" fill="#000">4E+8</text>
<line x1="141.40" y1="1382.54" x2="149.90" y2="1382.54" stroke="#000" stroke-width="1.6"/>
<line x1="529.90" y1="1382.54" x2="538.40" y2="1382.54" stroke="#000" stroke-width="1.6"/>
<text transform="translate(54.40,1391.80) scale(1,1.03)" font-size="29" fill="#000">6E+8</text>
<line x1="141.40" y1="1311.42" x2="149.90" y2="1311.42" stroke="#000" stroke-width="1.6"/>
<line x1="529.90" y1="1311.42" x2="538.40" y2="1311.42" stroke="#000" stroke-width="1.6"/>
<text transform="translate(54.40,1318.90) scale(1,1.03)" font-size="29" fill="#000">8E+8</text>
<text transform="translate(54.50,1251.30) scale(1,1.03)" font-size="29" fill="#000">1E+9</text>
<text transform="translate(550.40,1603.50) scale(1,1.03)" font-size="29" fill="#000">0.00E+6</text>
<text transform="translate(550.00,1534.90) scale(1,1.03)" font-size="29" fill="#000">2.50E+6</text>
<text transform="translate(550.30,1462.80) scale(1,1.03)" font-size="29" fill="#000">5.00E+6</text>
<text transform="translate(550.00,1387.70) scale(1,1.03)" font-size="29" fill="#000">7.50E+6</text>
<text transform="translate(549.30,1320.00) scale(1,1.03)" font-size="29" fill="#000">1.00E+7</text>
<text transform="translate(549.30,1251.00) scale(1,1.03)" font-size="29" fill="#000">1.25E+7</text>
<text transform="translate(133.35,1633.00) scale(1,1.03)" font-size="29" fill="#000">0</text>
<line x1="231.55" y1="1595.90" x2="231.55" y2="1587.40" stroke="#000" stroke-width="1.6"/>
<text transform="translate(215.40,1633.00) scale(1,1.03)" font-size="29" fill="#000">50</text>
<line x1="321.70" y1="1595.90" x2="321.70" y2="1587.40" stroke="#000" stroke-width="1.6"/>
<text transform="translate(296.95,1633.00) scale(1,1.03)" font-size="29" fill="#000">100</text>
<line x1="411.85" y1="1595.90" x2="411.85" y2="1587.40" stroke="#000" stroke-width="1.6"/>
<text transform="translate(387.10,1633.00) scale(1,1.03)" font-size="29" fill="#000">150</text>
<line x1="502.00" y1="1595.90" x2="502.00" y2="1587.40" stroke="#000" stroke-width="1.6"/>
<text transform="translate(477.60,1633.00) scale(1,1.03)" font-size="29" fill="#000">200</text>
<text transform="translate(158.85,1677.60) scale(1,1.03)" font-size="29" fill="#000">DNA fragment size parameter</text>
<text transform="translate(27.50,1527.11) rotate(-90) scale(1.0056,1.03)" x="0" y="0" font-size="29">Number of domain</text>
<text transform="translate(707.10,1589.90) rotate(-90) scale(1.0037,1.03)" x="0" y="0" font-size="29">Total read count in domains</text>
<polyline points="141.30,1307.70 230.70,1311.40 320.80,1316.20 411.50,1312.50 501.70,1313.40" fill="none" stroke="#b4b4b4" stroke-width="6" stroke-linejoin="round" stroke-dasharray="9.4 11.4" stroke-dashoffset="-1" stroke-linecap="round"/>
<circle cx="141.30" cy="1307.70" r="8.9" fill="#b4b4b4"/>
<circle cx="230.70" cy="1311.40" r="8.9" fill="#b4b4b4"/>
<circle cx="320.80" cy="1316.20" r="8.9" fill="#b4b4b4"/>
<circle cx="411.50" cy="1312.50" r="8.9" fill="#b4b4b4"/>
<circle cx="501.70" cy="1313.40" r="8.9" fill="#b4b4b4"/>
<polyline points="141.10,1273.90 230.70,1285.80 320.80,1298.50 411.50,1287.20 501.70,1288.90" fill="none" stroke="#000" stroke-width="4.5" stroke-linejoin="round"/>
<rect x="132.10" y="1264.90" width="18" height="18" rx="1.5" fill="#000"/>
<rect x="221.70" y="1276.80" width="18" height="18" rx="1.5" fill="#000"/>
<rect x="311.80" y="1289.50" width="18" height="18" rx="1.5" fill="#000"/>
<rect x="402.50" y="1278.20" width="18" height="18" rx="1.5" fill="#000"/>
<rect x="492.70" y="1279.90" width="18" height="18" rx="1.5" fill="#000"/>
<line x1="124.20" y1="1725.80" x2="211.80" y2="1725.80" stroke="#000" stroke-width="5" stroke-linecap="round"/>
<rect x="160" y="1717.8" width="14.8" height="15.1" fill="#000"/>
<text transform="translate(225.10,1734.30) scale(1,1.03)" font-size="29" fill="#000">Total length of domains (left)</text>
<line x1="123.70" y1="1777.50" x2="214.00" y2="1777.50" stroke="#b4b4b4" stroke-width="5.2" stroke-dasharray="9.8 11.2" stroke-linecap="round"/>
<circle cx="166.40" cy="1777.50" r="7.2" fill="#b4b4b4"/>
<text transform="translate(231.10,1787.60) scale(1,1.03)" font-size="29" fill="#000">Total reads in domains (right)</text>
<text transform="translate(778.40,1208.60) scale(1,1.03)" font-size="30" fill="#000">F</text>
<rect x="935.4" y="1236.9" width="419.30000000000007" height="359.39999999999986" fill="none" stroke="#000" stroke-width="2"/>
<line x1="935.40" y1="1596.30" x2="943.40" y2="1596.30" stroke="#000" stroke-width="1.6"/>
<line x1="1346.70" y1="1596.30" x2="1354.70" y2="1596.30" stroke="#000" stroke-width="1.6"/>
<line x1="935.40" y1="1569.25" x2="941.90" y2="1569.25" stroke="#000" stroke-width="1.6"/>
<line x1="1348.20" y1="1569.25" x2="1354.70" y2="1569.25" stroke="#000" stroke-width="1.6"/>
<line x1="935.40" y1="1553.43" x2="941.90" y2="1553.43" stroke="#000" stroke-width="1.6"/>
<line x1="1348.20" y1="1553.43" x2="1354.70" y2="1553.43" stroke="#000" stroke-width="1.6"/>
<line x1="935.40" y1="1542.20" x2="941.90" y2="1542.20" stroke="#000" stroke-width="1.6"/>
<line x1="1348.20" y1="1542.20" x2="1354.70" y2="1542.20" stroke="#000" stroke-width="1.6"/>
<line x1="935.40" y1="1533.50" x2="941.90" y2="1533.50" stroke="#000" stroke-width="1.6"/>
<line x1="1348.20" y1="1533.50" x2="1354.70" y2="1533.50" stroke="#000" stroke-width="1.6"/>
<line x1="935.40" y1="1526.38" x2="941.90" y2="1526.38" stroke="#000" stroke-width="1.6"/>
<line x1="1348.20" y1="1526.38" x2="1354.70" y2="1526.38" stroke="#000" stroke-width="1.6"/>
<line x1="935.40" y1="1520.37" x2="941.90" y2="1520.37" stroke="#000" stroke-width="1.6"/>
<line x1="1348.20" y1="1520.37" x2="1354.70" y2="1520.37" stroke="#000" stroke-width="1.6"/>
<line x1="935.40" y1="1515.16" x2="941.90" y2="1515.16" stroke="#000" stroke-width="1.6"/>
<line x1="1348.20" y1="1515.16" x2="1354.70" y2="1515.16" stroke="#000" stroke-width="1.6"/>
<line x1="935.40" y1="1510.56" x2="941.90" y2="1510.56" stroke="#000" stroke-width="1.6"/>
<line x1="1348.20" y1="1510.56" x2="1354.70" y2="1510.56" stroke="#000" stroke-width="1.6"/>
<line x1="935.40" y1="1506.45" x2="943.40" y2="1506.45" stroke="#000" stroke-width="1.6"/>
<line x1="1346.70" y1="1506.45" x2="1354.70" y2="1506.45" stroke="#000" stroke-width="1.6"/>
<line x1="935.40" y1="1479.40" x2="941.90" y2="1479.40" stroke="#000" stroke-width="1.6"/>
<line x1="1348.20" y1="1479.40" x2="1354.70" y2="1479.40" stroke="#000" stroke-width="1.6"/>
<line x1="935.40" y1="1463.58" x2="941.90" y2="1463.58" stroke="#000" stroke-width="1.6"/>
<line x1="1348.20" y1="1463.58" x2="1354.70" y2="1463.58" stroke="#000" stroke-width="1.6"/>
<line x1="935.40" y1="1452.35" x2="941.90" y2="1452.35" stroke="#000" stroke-width="1.6"/>
<line x1="1348.20" y1="1452.35" x2="1354.70" y2="1452.35" stroke="#000" stroke-width="1.6"/>
<line x1="935.40" y1="1443.65" x2="941.90" y2="1443.65" stroke="#000" stroke-width="1.6"/>
<line x1="1348.20" y1="1443.65" x2="1354.70" y2="1443.65" stroke="#000" stroke-width="1.6"/>
<line x1="935.40" y1="1436.53" x2="941.90" y2="1436.53" stroke="#000" stroke-width="1.6"/>
<line x1="1348.20" y1="1436.53" x2="1354.70" y2="1436.53" stroke="#000" stroke-width="1.6"/>
<line x1="935.40" y1="1430.52" x2="941.90" y2="1430.52" stroke="#000" stroke-width="1.6"/>
<line x1="1348.20" y1="1430.52" x2="1354.70" y2="1430.52" stroke="#000" stroke-width="1.6"/>
<line x1="935.40" y1="1425.31" x2="941.90" y2="1425.31" stroke="#000" stroke-width="1.6"/>
<line x1="1348.20" y1="1425.31" x2="1354.70" y2="1425.31" stroke="#000" stroke-width="1.6"/>
<line x1="935.40" y1="1420.71" x2="941.90" y2="1420.71" stroke="#000" stroke-width="1.6"/>
<line x1="1348.20" y1="1420.71" x2="1354.70" y2="1420.71" stroke="#000" stroke-width="1.6"/>
<line x1="935.40" y1="1416.60" x2="943.40" y2="1416.60" stroke="#000" stroke-width="1.6"/>
<line x1="1346.70" y1="1416.60" x2="1354.70" y2="1416.60" stroke="#000" stroke-width="1.6"/>
<line x1="935.40" y1="1389.55" x2="941.90" y2="1389.55" stroke="#000" stroke-width="1.6"/>
<line x1="1348.20" y1="1389.55" x2="1354.70" y2="1389.55" stroke="#000" stroke-width="1.6"/>
<line x1="935.40" y1="1373.73" x2="941.90" y2="1373.73" stroke="#000" stroke-width="1.6"/>
<line x1="1348.20" y1="1373.73" x2="1354.70" y2="1373.73" stroke="#000" stroke-width="1.6"/>
<line x1="935.40" y1="1362.50" x2="941.90" y2="1362.50" stroke="#000" stroke-width="1.6"/>
<line x1="1348.20" y1="1362.50" x2="1354.70" y2="1362.50" stroke="#000" stroke-width="1.6"/>
<line x1="935.40" y1="1353.80" x2="941.90" y2="1353.80" stroke="#000" stroke-width="1.6"/>
<line x1="1348.20" y1="1353.80" x2="1354.70" y2="1353.80" stroke="#000" stroke-width="1.6"/>
<line x1="935.40" y1="1346.68" x2="941.90" y2="1346.68" stroke="#000" stroke-width="1.6"/>
<line x1="1348.20" y1="1346.68" x2="1354.70" y2="1346.68" stroke="#000" stroke-width="1.6"/>
<line x1="935.40" y1="1340.67" x2="941.90" y2="1340.67" stroke="#000" stroke-width="1.6"/>
<line x1="1348.20" y1="1340.67" x2="1354.70" y2="1340.67" stroke="#000" stroke-width="1.6"/>
<line x1="935.40" y1="1335.46" x2="941.90" y2="1335.46" stroke="#000" stroke-width="1.6"/>
<line x1="1348.20" y1="1335.46" x2="1354.70" y2="1335.46" stroke="#000" stroke-width="1.6"/>
<line x1="935.40" y1="1330.86" x2="941.90" y2="1330.86" stroke="#000" stroke-width="1.6"/>
<line x1="1348.20" y1="1330.86" x2="1354.70" y2="1330.86" stroke="#000" stroke-width="1.6"/>
<line x1="935.40" y1="1326.75" x2="943.40" y2="1326.75" stroke="#000" stroke-width="1.6"/>
<line x1="1346.70" y1="1326.75" x2="1354.70" y2="1326.75" stroke="#000" stroke-width="1.6"/>
<line x1="935.40" y1="1299.70" x2="941.90" y2="1299.70" stroke="#000" stroke-width="1.6"/>
<line x1="1348.20" y1="1299.70" x2="1354.70" y2="1299.70" stroke="#000" stroke-width="1.6"/>
<line x1="935.40" y1="1283.88" x2="941.90" y2="1283.88" stroke="#000" stroke-width="1.6"/>
<line x1="1348.20" y1="1283.88" x2="1354.70" y2="1283.88" stroke="#000" stroke-width="1.6"/>
<line x1="935.40" y1="1272.65" x2="941.90" y2="1272.65" stroke="#000" stroke-width="1.6"/>
<line x1="1348.20" y1="1272.65" x2="1354.70" y2="1272.65" stroke="#000" stroke-width="1.6"/>
<line x1="935.40" y1="1263.95" x2="941.90" y2="1263.95" stroke="#000" stroke-width="1.6"/>
<line x1="1348.20" y1="1263.95" x2="1354.70" y2="1263.95" stroke="#000" stroke-width="1.6"/>
<line x1="935.40" y1="1256.83" x2="941.90" y2="1256.83" stroke="#000" stroke-width="1.6"/>
<line x1="1348.20" y1="1256.83" x2="1354.70" y2="1256.83" stroke="#000" stroke-width="1.6"/>
<line x1="935.40" y1="1250.82" x2="941.90" y2="1250.82" stroke="#000" stroke-width="1.6"/>
<line x1="1348.20" y1="1250.82" x2="1354.70" y2="1250.82" stroke="#000" stroke-width="1.6"/>
<line x1="935.40" y1="1245.61" x2="941.90" y2="1245.61" stroke="#000" stroke-width="1.6"/>
<line x1="1348.20" y1="1245.61" x2="1354.70" y2="1245.61" stroke="#000" stroke-width="1.6"/>
<line x1="935.40" y1="1241.01" x2="941.90" y2="1241.01" stroke="#000" stroke-width="1.6"/>
<line x1="1348.20" y1="1241.01" x2="1354.70" y2="1241.01" stroke="#000" stroke-width="1.6"/>
<text transform="translate(850.40,1606.80) scale(1,1.03)" font-size="29" fill="#000">1E+6</text>
<text transform="translate(1365.00,1606.80) scale(1,1.03)" font-size="29" fill="#000">1E+2</text>
<text transform="translate(850.60,1516.95) scale(1,1.03)" font-size="29" fill="#000">1E+7</text>
<text transform="translate(1365.00,1516.95) scale(1,1.03)" font-size="29" fill="#000">1E+3</text>
<text transform="translate(850.40,1427.10) scale(1,1.03)" font-size="29" fill="#000">1E+8</text>
<text transform="translate(1365.00,1427.10) scale(1,1.03)" font-size="29" fill="#000">1E+4</text>
<text transform="translate(850.50,1337.25) scale(1,1.03)" font-size="29" fill="#000">1E+9</text>
<text transform="translate(1365.00,1337.25) scale(1,1.03)" font-size="29" fill="#000">1E+5</text>
<text transform="translate(834.20,1247.40) scale(1,1.03)" font-size="29" fill="#000">1E+10</text>
<text transform="translate(1365.00,1247.40) scale(1,1.03)" font-size="29" fill="#000">1E+6</text>
<line x1="1025.71" y1="1596.30" x2="1025.71" y2="1590.30" stroke="#000" stroke-width="1.6"/>
<line x1="1078.54" y1="1596.30" x2="1078.54" y2="1590.30" stroke="#000" stroke-width="1.6"/>
<line x1="1116.02" y1="1596.30" x2="1116.02" y2="1590.30" stroke="#000" stroke-width="1.6"/>
<line x1="1145.09" y1="1596.30" x2="1145.09" y2="1590.30" stroke="#000" stroke-width="1.6"/>
<line x1="1168.85" y1="1596.30" x2="1168.85" y2="1590.30" stroke="#000" stroke-width="1.6"/>
<line x1="1188.93" y1="1596.30" x2="1188.93" y2="1590.30" stroke="#000" stroke-width="1.6"/>
<line x1="1206.33" y1="1596.30" x2="1206.33" y2="1590.30" stroke="#000" stroke-width="1.6"/>
<line x1="1221.67" y1="1596.30" x2="1221.67" y2="1590.30" stroke="#000" stroke-width="1.6"/>
<line x1="1235.40" y1="1596.30" x2="1235.40" y2="1587.80" stroke="#000" stroke-width="1.6"/>
<line x1="1325.71" y1="1596.30" x2="1325.71" y2="1590.30" stroke="#000" stroke-width="1.6"/>
<text transform="translate(909.85,1633.00) scale(1,1.03)" font-size="29" fill="#000">100</text>
<text transform="translate(1201.80,1633.00) scale(1,1.03)" font-size="29" fill="#000">1000</text>
<text transform="translate(1025.65,1677.60) scale(1,1.03)" font-size="29" fill="#000">Window size (bp)</text>
<text transform="translate(809.00,1597.90) rotate(-90) scale(1.0053,1.03)" x="0" y="0" font-size="29">Total length of domains (bp)</text>
<text transform="translate(1478.70,1612.51) rotate(-90) scale(1.0041,1.03)" x="0" y="0" font-size="29">Median length of domains (bp)</text>
<polyline points="935.00,1461.50 1025.30,1424.00 1144.40,1447.70 1235.80,1462.90 1326.10,1478.80" fill="none" stroke="#7f7f7f" stroke-width="4.5" stroke-linejoin="round"/>
<polygon points="935.00,1450.75 945.75,1461.50 935.00,1472.25 924.25,1461.50" fill="#7f7f7f"/>
<polygon points="1025.30,1413.25 1036.05,1424.00 1025.30,1434.75 1014.55,1424.00" fill="#7f7f7f"/>
<polygon points="1144.40,1436.95 1155.15,1447.70 1144.40,1458.45 1133.65,1447.70" fill="#7f7f7f"/>
<polygon points="1235.80,1452.15 1246.55,1462.90 1235.80,1473.65 1225.05,1462.90" fill="#7f7f7f"/>
<polygon points="1326.10,1468.05 1336.85,1478.80 1326.10,1489.55 1315.35,1478.80" fill="#7f7f7f"/>
<polyline points="934.40,1324.50 1024.40,1330.30 1144.10,1321.60 1235.20,1320.20 1325.20,1321.00" fill="none" stroke="#000" stroke-width="4.5" stroke-linejoin="round"/>
<rect x="925.40" y="1315.50" width="18" height="18" rx="1.5" fill="#000"/>
<rect x="1015.40" y="1321.30" width="18" height="18" rx="1.5" fill="#000"/>
<rect x="1135.10" y="1312.60" width="18" height="18" rx="1.5" fill="#000"/>
<rect x="1226.20" y="1311.20" width="18" height="18" rx="1.5" fill="#000"/>
<rect x="1316.20" y="1312.00" width="18" height="18" rx="1.5" fill="#000"/>
<line x1="906.60" y1="1726.80" x2="972.00" y2="1726.80" stroke="#000" stroke-width="5" stroke-linecap="round"/>
<rect x="931.2" y="1719.2" width="15.1" height="15.1" fill="#000"/>
<text transform="translate(987.90,1734.30) scale(1,1.03)" font-size="29" fill="#000">Total length of domains (left)</text>
<line x1="906.60" y1="1778.90" x2="972.00" y2="1778.90" stroke="#7f7f7f" stroke-width="5" stroke-linecap="round"/>
<polygon points="939.50,1771.45 947.25,1779.20 939.50,1786.95 931.75,1779.20" fill="#7f7f7f"/>
<text transform="translate(987.20,1787.60) scale(1,1.03)" font-size="29" fill="#000">Median length in domains (right)</text>
</svg></body></html>
